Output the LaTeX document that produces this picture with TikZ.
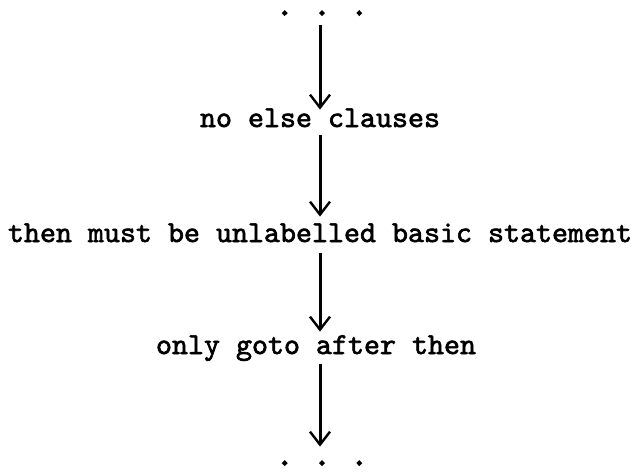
\documentclass[tikz,border=0pt]{standalone}
\usepackage{fontspec}
\newfontfamily\typefont{lmmono10-regular}[Extension=.otf,FakeBold=2]
\newfontfamily\dotfont{lmmono10-regular}[Extension=.otf,FakeBold=5]
\usepackage{tikz}
\usetikzlibrary{arrows.meta,positioning}
\tikzset{font=\typefont\fontsize{15.24}{18}\selectfont}
\tikzset{every node/.append style={inner sep=0pt}}
\tikzset{lbl/.style={anchor=base,text height=10pt,text depth=2pt}}
\tikzset{dots/.style={anchor=base,text height=2.5pt,text depth=1pt,
    font=\dotfont\fontsize{15.24}{18}\selectfont}}
\tikzset{flow/.style={line width=1.5pt,
    -{Straight Barb[length=6.5pt,width=10pt,line width=1.2pt]}}}

\begin{document}
\begin{tikzpicture}[x=0.5pt,y=-0.5pt]
  \useasboundingbox (0,0) rectangle (640,472);
  \node[dots] (dotstop) at (322,15) {. . .};
  \node[lbl] (else) at (320,127) {no else clauses};
  \node[lbl] (then) at (320,242) {then must be unlabelled basic statement};
  \node[lbl] (goto) at (316,354) {only goto after then};
  \node[dots] (dotsbot) at (322,465) {. . .};
  \draw[flow,shorten <=4pt,shorten >=-1.5pt] (dotstop.south -| else) -- (else.north);
  \draw[flow,shorten <=2pt,shorten >=2.5pt] (else.south) -- (then.north);
  \draw[flow,shorten <=3.5pt,shorten >=1pt] (then.south) -- (then.south |- goto.north);
  \draw[flow,shorten <=3pt,shorten >=6.5pt] (goto.south -| then) -- (dotsbot.north -| then);
\end{tikzpicture}
\end{document}
